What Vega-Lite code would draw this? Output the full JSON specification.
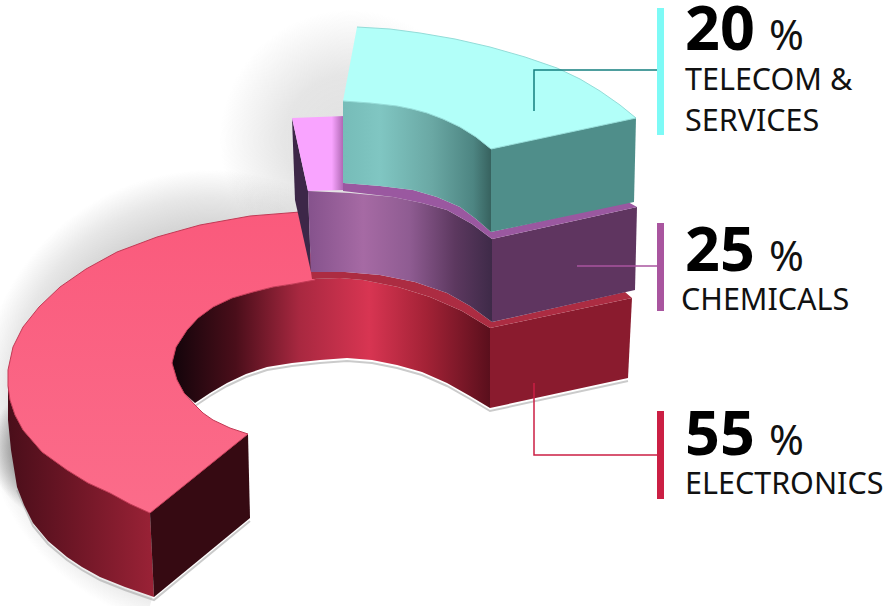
{
"$schema":"https://vega.github.io/schema/vega-lite/v6.json",
"width":887,"height":606,"padding":0,
"autosize":{"type":"none"},
"background":"white",
"view":{"stroke":null},
"encoding":{"x":{"field":"x","type":"quantitative","scale":{"domain":[0,887]},"axis":null},"y":{"field":"y","type":"quantitative","scale":{"domain":[606,0]},"axis":null}},
"datasets":{
"outline":[
{"part":"glowA","i":1,"x":0,"y":170},{"part":"glowA","i":2,"x":460,"y":170},{"part":"glowA","i":3,"x":460,"y":630},{"part":"glowA","i":4,"x":0,"y":630},
{"part":"glowB","i":1,"x":220,"y":10},{"part":"glowB","i":2,"x":480,"y":10},{"part":"glowB","i":3,"x":480,"y":270},{"part":"glowB","i":4,"x":220,"y":270},
{"part":"glowC","i":1,"x":-10,"y":380},{"part":"glowC","i":2,"x":130,"y":380},{"part":"glowC","i":3,"x":130,"y":520},{"part":"glowC","i":4,"x":-10,"y":520},
{"part":"floor","i":1,"x":180,"y":360},{"part":"floor","i":2,"x":350,"y":320},{"part":"floor","i":3,"x":490,"y":340},{"part":"floor","i":4,"x":640,"y":340},{"part":"floor","i":5,"x":656,"y":606},{"part":"floor","i":6,"x":150,"y":606},{"part":"floor","i":7,"x":154,"y":590},{"part":"floor","i":8,"x":250,"y":510},{"part":"floor","i":9,"x":240,"y":440},{"part":"floor","i":10,"x":195,"y":410},
{"part":"redOuter","i":1,"x":8,"y":370},{"part":"redOuter","i":2,"x":10,"y":400},{"part":"redOuter","i":3,"x":15,"y":415},{"part":"redOuter","i":4,"x":23,"y":430},{"part":"redOuter","i":5,"x":42,"y":452},{"part":"redOuter","i":6,"x":67,"y":470},{"part":"redOuter","i":7,"x":88,"y":483},{"part":"redOuter","i":8,"x":110,"y":493},{"part":"redOuter","i":9,"x":150,"y":513},{"part":"redOuter","i":10,"x":154,"y":597},{"part":"redOuter","i":11,"x":125,"y":587},{"part":"redOuter","i":12,"x":100,"y":577},{"part":"redOuter","i":13,"x":82,"y":567},{"part":"redOuter","i":14,"x":67,"y":557},{"part":"redOuter","i":15,"x":48,"y":541},{"part":"redOuter","i":16,"x":33,"y":523},{"part":"redOuter","i":17,"x":24,"y":505},{"part":"redOuter","i":18,"x":17,"y":487},{"part":"redOuter","i":19,"x":11,"y":450},{"part":"redOuter","i":20,"x":8,"y":420},
{"part":"redEnd","i":1,"x":150,"y":513},{"part":"redEnd","i":2,"x":248,"y":434},{"part":"redEnd","i":3,"x":250,"y":518},{"part":"redEnd","i":4,"x":154,"y":597},
{"part":"redTop","i":1,"x":300,"y":212},{"part":"redTop","i":2,"x":250,"y":216},{"part":"redTop","i":3,"x":200,"y":225},{"part":"redTop","i":4,"x":157,"y":237},{"part":"redTop","i":5,"x":117,"y":252},{"part":"redTop","i":6,"x":86,"y":269},{"part":"redTop","i":7,"x":60,"y":287},{"part":"redTop","i":8,"x":39,"y":307},{"part":"redTop","i":9,"x":23,"y":327},{"part":"redTop","i":10,"x":13,"y":347},{"part":"redTop","i":11,"x":8,"y":370},{"part":"redTop","i":12,"x":8,"y":386},{"part":"redTop","i":13,"x":10,"y":400},{"part":"redTop","i":14,"x":15,"y":415},{"part":"redTop","i":15,"x":23,"y":430},{"part":"redTop","i":16,"x":42,"y":452},{"part":"redTop","i":17,"x":67,"y":470},{"part":"redTop","i":18,"x":88,"y":483},{"part":"redTop","i":19,"x":110,"y":493},{"part":"redTop","i":20,"x":130,"y":504},{"part":"redTop","i":21,"x":150,"y":513},{"part":"redTop","i":22,"x":248,"y":434},{"part":"redTop","i":23,"x":230,"y":428},{"part":"redTop","i":24,"x":213,"y":420},{"part":"redTop","i":25,"x":203,"y":413},{"part":"redTop","i":26,"x":195,"y":405},{"part":"redTop","i":27,"x":184,"y":393},{"part":"redTop","i":28,"x":177,"y":380},{"part":"redTop","i":29,"x":172,"y":363},{"part":"redTop","i":30,"x":176,"y":347},{"part":"redTop","i":31,"x":187,"y":330},{"part":"redTop","i":32,"x":198,"y":318},{"part":"redTop","i":33,"x":213,"y":307},{"part":"redTop","i":34,"x":232,"y":298},{"part":"redTop","i":35,"x":253,"y":292},{"part":"redTop","i":36,"x":273,"y":287},{"part":"redTop","i":37,"x":293,"y":284},{"part":"redTop","i":38,"x":315,"y":280},{"part":"redTop","i":39,"x":315,"y":270},
{"part":"redWall","i":1,"x":172,"y":363},{"part":"redWall","i":2,"x":176,"y":347},{"part":"redWall","i":3,"x":187,"y":330},{"part":"redWall","i":4,"x":198,"y":318},{"part":"redWall","i":5,"x":213,"y":307},{"part":"redWall","i":6,"x":232,"y":298},{"part":"redWall","i":7,"x":253,"y":292},{"part":"redWall","i":8,"x":273,"y":287},{"part":"redWall","i":9,"x":293,"y":284},{"part":"redWall","i":10,"x":312,"y":279},{"part":"redWall","i":11,"x":340,"y":278},{"part":"redWall","i":12,"x":363,"y":280},{"part":"redWall","i":13,"x":398,"y":287},{"part":"redWall","i":14,"x":430,"y":297},{"part":"redWall","i":15,"x":462,"y":311},{"part":"redWall","i":16,"x":490,"y":328},{"part":"redWall","i":17,"x":490,"y":408},{"part":"redWall","i":18,"x":470,"y":396},{"part":"redWall","i":19,"x":447,"y":383},{"part":"redWall","i":20,"x":422,"y":372},{"part":"redWall","i":21,"x":397,"y":365},{"part":"redWall","i":22,"x":372,"y":360},{"part":"redWall","i":23,"x":347,"y":358},{"part":"redWall","i":24,"x":320,"y":360},{"part":"redWall","i":25,"x":292,"y":363},{"part":"redWall","i":26,"x":267,"y":367},{"part":"redWall","i":27,"x":246,"y":374},{"part":"redWall","i":28,"x":227,"y":383},{"part":"redWall","i":29,"x":210,"y":393},{"part":"redWall","i":30,"x":195,"y":403},{"part":"redWall","i":31,"x":184,"y":393},{"part":"redWall","i":32,"x":177,"y":380},
{"part":"redStrip","i":1,"x":311,"y":272},{"part":"redStrip","i":2,"x":345,"y":272},{"part":"redStrip","i":3,"x":380,"y":275},{"part":"redStrip","i":4,"x":415,"y":282},{"part":"redStrip","i":5,"x":447,"y":293},{"part":"redStrip","i":6,"x":470,"y":306},{"part":"redStrip","i":7,"x":492,"y":322},{"part":"redStrip","i":8,"x":625,"y":292},{"part":"redStrip","i":9,"x":632,"y":298},{"part":"redStrip","i":10,"x":490,"y":328},{"part":"redStrip","i":11,"x":462,"y":311},{"part":"redStrip","i":12,"x":430,"y":297},{"part":"redStrip","i":13,"x":398,"y":287},{"part":"redStrip","i":14,"x":363,"y":280},{"part":"redStrip","i":15,"x":340,"y":278},{"part":"redStrip","i":16,"x":312,"y":279},
{"part":"redRight","i":1,"x":490,"y":328},{"part":"redRight","i":2,"x":632,"y":298},{"part":"redRight","i":3,"x":628,"y":378},{"part":"redRight","i":4,"x":490,"y":408},
{"part":"purpleSide","i":1,"x":292,"y":118},{"part":"purpleSide","i":2,"x":308,"y":191},{"part":"purpleSide","i":3,"x":311,"y":272},{"part":"purpleSide","i":4,"x":295,"y":200},
{"part":"purpleTop","i":1,"x":292,"y":118},{"part":"purpleTop","i":2,"x":345,"y":116},{"part":"purpleTop","i":3,"x":345,"y":190},{"part":"purpleTop","i":4,"x":308,"y":191},
{"part":"purpleWall","i":1,"x":308,"y":191},{"part":"purpleWall","i":2,"x":350,"y":193},{"part":"purpleWall","i":3,"x":393,"y":197},{"part":"purpleWall","i":4,"x":422,"y":203},{"part":"purpleWall","i":5,"x":447,"y":210},{"part":"purpleWall","i":6,"x":472,"y":224},{"part":"purpleWall","i":7,"x":492,"y":239},{"part":"purpleWall","i":8,"x":492,"y":322},{"part":"purpleWall","i":9,"x":470,"y":306},{"part":"purpleWall","i":10,"x":447,"y":293},{"part":"purpleWall","i":11,"x":415,"y":282},{"part":"purpleWall","i":12,"x":380,"y":275},{"part":"purpleWall","i":13,"x":345,"y":272},{"part":"purpleWall","i":14,"x":311,"y":272},
{"part":"purpleStrip","i":1,"x":343,"y":183},{"part":"purpleStrip","i":2,"x":380,"y":186},{"part":"purpleStrip","i":3,"x":413,"y":190},{"part":"purpleStrip","i":4,"x":437,"y":197},{"part":"purpleStrip","i":5,"x":460,"y":207},{"part":"purpleStrip","i":6,"x":476,"y":219},{"part":"purpleStrip","i":7,"x":491,"y":232},{"part":"purpleStrip","i":8,"x":628,"y":202},{"part":"purpleStrip","i":9,"x":637,"y":207},{"part":"purpleStrip","i":10,"x":492,"y":239},{"part":"purpleStrip","i":11,"x":472,"y":224},{"part":"purpleStrip","i":12,"x":447,"y":210},{"part":"purpleStrip","i":13,"x":422,"y":203},{"part":"purpleStrip","i":14,"x":393,"y":197},{"part":"purpleStrip","i":15,"x":343,"y":191},
{"part":"purpleRight","i":1,"x":492,"y":239},{"part":"purpleRight","i":2,"x":637,"y":207},{"part":"purpleRight","i":3,"x":635,"y":290},{"part":"purpleRight","i":4,"x":492,"y":322},
{"part":"tealTop","i":1,"x":357,"y":27},{"part":"tealTop","i":2,"x":390,"y":29},{"part":"tealTop","i":3,"x":420,"y":33},{"part":"tealTop","i":4,"x":455,"y":39},{"part":"tealTop","i":5,"x":490,"y":47},{"part":"tealTop","i":6,"x":525,"y":57},{"part":"tealTop","i":7,"x":557,"y":68},{"part":"tealTop","i":8,"x":580,"y":79},{"part":"tealTop","i":9,"x":600,"y":91},{"part":"tealTop","i":10,"x":620,"y":105},{"part":"tealTop","i":11,"x":636,"y":118},{"part":"tealTop","i":12,"x":491,"y":149},{"part":"tealTop","i":13,"x":476,"y":137},{"part":"tealTop","i":14,"x":460,"y":127},{"part":"tealTop","i":15,"x":443,"y":119},{"part":"tealTop","i":16,"x":427,"y":113},{"part":"tealTop","i":17,"x":412,"y":109},{"part":"tealTop","i":18,"x":397,"y":106},{"part":"tealTop","i":19,"x":370,"y":103},{"part":"tealTop","i":20,"x":343,"y":101},
{"part":"tealWall","i":1,"x":343,"y":101},{"part":"tealWall","i":2,"x":370,"y":103},{"part":"tealWall","i":3,"x":397,"y":106},{"part":"tealWall","i":4,"x":412,"y":109},{"part":"tealWall","i":5,"x":427,"y":113},{"part":"tealWall","i":6,"x":443,"y":119},{"part":"tealWall","i":7,"x":460,"y":127},{"part":"tealWall","i":8,"x":476,"y":137},{"part":"tealWall","i":9,"x":491,"y":149},{"part":"tealWall","i":10,"x":491,"y":232},{"part":"tealWall","i":11,"x":476,"y":219},{"part":"tealWall","i":12,"x":460,"y":207},{"part":"tealWall","i":13,"x":437,"y":197},{"part":"tealWall","i":14,"x":413,"y":190},{"part":"tealWall","i":15,"x":380,"y":186},{"part":"tealWall","i":16,"x":343,"y":183},
{"part":"tealRight","i":1,"x":491,"y":149},{"part":"tealRight","i":2,"x":636,"y":118},{"part":"tealRight","i":3,"x":634,"y":202},{"part":"tealRight","i":4,"x":491,"y":232}
],
"contact":[
{"edge":"hole","i":1,"x":195,"y":406},{"edge":"hole","i":2,"x":210,"y":396},{"edge":"hole","i":3,"x":227,"y":386},{"edge":"hole","i":4,"x":246,"y":377},{"edge":"hole","i":5,"x":267,"y":370},{"edge":"hole","i":6,"x":292,"y":366},{"edge":"hole","i":7,"x":320,"y":363},{"edge":"hole","i":8,"x":347,"y":361},{"edge":"hole","i":9,"x":372,"y":363},{"edge":"hole","i":10,"x":397,"y":368},{"edge":"hole","i":11,"x":422,"y":375},{"edge":"hole","i":12,"x":447,"y":386},{"edge":"hole","i":13,"x":470,"y":399},{"edge":"hole","i":14,"x":490,"y":411},{"edge":"hole","i":15,"x":628,"y":381},
{"edge":"rim","i":1,"x":17,"y":490},{"edge":"rim","i":2,"x":33,"y":526},{"edge":"rim","i":3,"x":48,"y":544},{"edge":"rim","i":4,"x":67,"y":560},{"edge":"rim","i":5,"x":82,"y":570},{"edge":"rim","i":6,"x":100,"y":580},{"edge":"rim","i":7,"x":125,"y":590},{"edge":"rim","i":8,"x":154,"y":600},{"edge":"rim","i":9,"x":250,"y":521}
],
"leaders":[
{"segment":"Telecom & Services","i":1,"x":534,"y":111},{"segment":"Telecom & Services","i":2,"x":534,"y":70},{"segment":"Telecom & Services","i":3,"x":660,"y":70},
{"segment":"Chemicals","i":1,"x":577,"y":266},{"segment":"Chemicals","i":2,"x":660,"y":266},
{"segment":"Electronics","i":1,"x":534,"y":383},{"segment":"Electronics","i":2,"x":534,"y":455},{"segment":"Electronics","i":3,"x":660,"y":455}
],
"bars":[
{"segment":"Telecom & Services","x":660.5,"y":8,"y2":135},
{"segment":"Chemicals","x":660.5,"y":223,"y2":311},
{"segment":"Electronics","x":660.5,"y":411,"y2":499}
],
"shares":[
{"share":20,"x":685,"pct":769,"y":50},
{"share":25,"x":685,"pct":769,"y":271},
{"share":55,"x":685,"pct":769,"y":455}
],
"names":[
{"name":"TELECOM &","x":685,"y":90},
{"name":"SERVICES","x":685,"y":131},
{"name":"CHEMICALS","x":681,"y":310},
{"name":"ELECTRONICS","x":685,"y":494}
]
},
"layer":[
{"data":{"name":"outline"},"transform":[{"filter":"datum.part==='glowA'"}],
 "mark":{"type":"line","strokeWidth":0,"fill":{"gradient":"radial","x1":0.457,"y1":0.5,"r1":0,"x2":0.457,"y2":0.5,"r2":0.5,"stops":[{"offset":0,"color":"rgba(170,170,170,0.5)"},{"offset":0.75,"color":"rgba(170,170,170,0.5)"},{"offset":0.88,"color":"rgba(170,170,170,0.28)"},{"offset":1,"color":"rgba(170,170,170,0)"}]}},
 "encoding":{"order":{"field":"i"}}},
{"data":{"name":"outline"},"transform":[{"filter":"datum.part==='glowB'"}],
 "mark":{"type":"line","strokeWidth":0,"fill":{"gradient":"radial","x1":0.5,"y1":0.5,"r1":0,"x2":0.5,"y2":0.5,"r2":0.5,"stops":[{"offset":0,"color":"rgba(170,170,170,0.35)"},{"offset":0.5,"color":"rgba(170,170,170,0.3)"},{"offset":1,"color":"rgba(170,170,170,0)"}]}},
 "encoding":{"order":{"field":"i"}}},
{"data":{"name":"outline"},"transform":[{"filter":"datum.part==='glowC'"}],
 "mark":{"type":"line","strokeWidth":0,"fill":{"gradient":"radial","x1":0.5,"y1":0.5,"r1":0,"x2":0.5,"y2":0.5,"r2":0.5,"stops":[{"offset":0,"color":"rgba(120,120,120,0.7)"},{"offset":0.7,"color":"rgba(120,120,120,0.6)"},{"offset":1,"color":"rgba(120,120,120,0)"}]}},
 "encoding":{"order":{"field":"i"}}},
{"data":{"name":"outline"},"transform":[{"filter":"datum.part==='floor'"}],
 "mark":{"type":"line","strokeWidth":0,"fill":"#ffffff"},
 "encoding":{"order":{"field":"i"}}},
{"data":{"name":"contact"},
 "mark":{"type":"line","strokeWidth":2,"stroke":"#a8a8a8","opacity":0.6},
 "encoding":{"order":{"field":"i"},"detail":{"field":"edge"}}},
{"data":{"name":"outline"},"transform":[{"filter":"datum.part==='redOuter'"}],
 "mark":{"type":"line","strokeWidth":0,"fill":{"x1":0,"y1":0,"x2":1,"y2":0,"gradient":"linear","stops":[{"offset":0,"color":"#4a0e1a"},{"offset":0.45,"color":"#6e1626"},{"offset":1,"color":"#9a2236"}]}},
 "encoding":{"order":{"field":"i"}}},
{"data":{"name":"outline"},"transform":[{"filter":"datum.part==='redEnd'"}],
 "mark":{"type":"line","strokeWidth":0,"fill":"#360a12"},
 "encoding":{"order":{"field":"i"}}},
{"data":{"name":"outline"},"transform":[{"filter":"datum.part==='redWall'"}],
 "mark":{"type":"line","strokeWidth":0,"fill":{"x1":0,"y1":0,"x2":1,"y2":0,"gradient":"linear","stops":[{"offset":0,"color":"#12040a"},{"offset":0.2,"color":"#4a0e1a"},{"offset":0.4,"color":"#a82840"},{"offset":0.62,"color":"#d83552"},{"offset":0.8,"color":"#a32236"},{"offset":1,"color":"#5a0f1c"}]}},
 "encoding":{"order":{"field":"i"}}},
{"data":{"name":"outline"},"transform":[{"filter":"datum.part==='redTop'"}],
 "mark":{"type":"line","strokeWidth":1,"stroke":"#c23a55","fill":{"x1":0,"y1":0,"x2":0,"y2":1,"gradient":"linear","stops":[{"offset":0,"color":"#fa5a7c"},{"offset":1,"color":"#fb6c8a"}]}},
 "encoding":{"order":{"field":"i"}}},
{"data":{"name":"outline"},"transform":[{"filter":"datum.part==='redRight'"}],
 "mark":{"type":"line","strokeWidth":0,"fill":"#8a1b2e"},
 "encoding":{"order":{"field":"i"}}},
{"data":{"name":"outline"},"transform":[{"filter":"datum.part==='redStrip'"}],
 "mark":{"type":"line","strokeWidth":0,"fill":"#ac2c42"},
 "encoding":{"order":{"field":"i"}}},
{"data":{"name":"outline"},"transform":[{"filter":"datum.part==='purpleSide'"}],
 "mark":{"type":"line","strokeWidth":0,"fill":"#3d2748"},
 "encoding":{"order":{"field":"i"}}},
{"data":{"name":"outline"},"transform":[{"filter":"datum.part==='purpleTop'"}],
 "mark":{"type":"line","strokeWidth":0,"fill":{"x1":0,"y1":0,"x2":1,"y2":0,"gradient":"linear","stops":[{"offset":0,"color":"#f9a4ff"},{"offset":0.75,"color":"#f9a4ff"},{"offset":1,"color":"#a45ea8"}]}},
 "encoding":{"order":{"field":"i"}}},
{"data":{"name":"outline"},"transform":[{"filter":"datum.part==='purpleWall'"}],
 "mark":{"type":"line","strokeWidth":0,"fill":{"x1":0,"y1":0,"x2":1,"y2":0,"gradient":"linear","stops":[{"offset":0,"color":"#85528c"},{"offset":0.3,"color":"#a66aa4"},{"offset":0.55,"color":"#8f5c92"},{"offset":0.8,"color":"#5c385f"},{"offset":1,"color":"#3e2a48"}]}},
 "encoding":{"order":{"field":"i"}}},
{"data":{"name":"outline"},"transform":[{"filter":"datum.part==='purpleRight'"}],
 "mark":{"type":"line","strokeWidth":0,"fill":"#5f3560"},
 "encoding":{"order":{"field":"i"}}},
{"data":{"name":"outline"},"transform":[{"filter":"datum.part==='purpleStrip'"}],
 "mark":{"type":"line","strokeWidth":0,"fill":"#9a58a0"},
 "encoding":{"order":{"field":"i"}}},
{"data":{"name":"outline"},"transform":[{"filter":"datum.part==='tealWall'"}],
 "mark":{"type":"line","strokeWidth":0,"fill":{"x1":0,"y1":0,"x2":1,"y2":0,"gradient":"linear","stops":[{"offset":0,"color":"#76bcb8"},{"offset":0.25,"color":"#80c6c2"},{"offset":0.6,"color":"#6aa8a4"},{"offset":0.88,"color":"#4d8582"},{"offset":1,"color":"#37625f"}]}},
 "encoding":{"order":{"field":"i"}}},
{"data":{"name":"outline"},"transform":[{"filter":"datum.part==='tealRight'"}],
 "mark":{"type":"line","strokeWidth":0,"fill":"#4f8e8a"},
 "encoding":{"order":{"field":"i"}}},
{"data":{"name":"outline"},"transform":[{"filter":"datum.part==='tealTop'"}],
 "mark":{"type":"line","strokeWidth":1,"stroke":"#93dcd8","fill":"#b2fff9"},
 "encoding":{"order":{"field":"i"}}},
{"data":{"name":"leaders"},
 "mark":{"type":"line","strokeWidth":1.5},
 "encoding":{"order":{"field":"i"},"detail":{"field":"segment"},
 "color":{"field":"segment","type":"nominal","legend":null,"scale":{"domain":["Telecom & Services","Chemicals","Electronics"],"range":["#147f7f","#a9559f","#cb1f44"]}}}},
{"data":{"name":"bars"},
 "mark":{"type":"rule","strokeWidth":7},
 "encoding":{"y2":{"field":"y2"},
 "color":{"field":"segment","type":"nominal","legend":null,"scale":{"domain":["Telecom & Services","Chemicals","Electronics"],"range":["#7dfaf6","#a9559f","#cb1f44"]}}}},
{"data":{"name":"shares"},
 "mark":{"type":"text","align":"left","baseline":"alphabetic","font":"Noto Sans","fontSize":61,"fontWeight":"bold","color":"#000000"},
 "encoding":{"text":{"field":"share"}}},
{"data":{"name":"shares"},
 "mark":{"type":"text","text":"%","align":"left","baseline":"alphabetic","font":"Noto Sans","fontSize":42,"color":"#111111"},
 "encoding":{"x":{"field":"pct","type":"quantitative"}}},
{"data":{"name":"names"},
 "mark":{"type":"text","align":"left","baseline":"alphabetic","font":"Noto Sans","fontSize":30.5,"color":"#111111"},
 "encoding":{"text":{"field":"name"}}}
],
"resolve":{"scale":{"color":"independent"}}
}
